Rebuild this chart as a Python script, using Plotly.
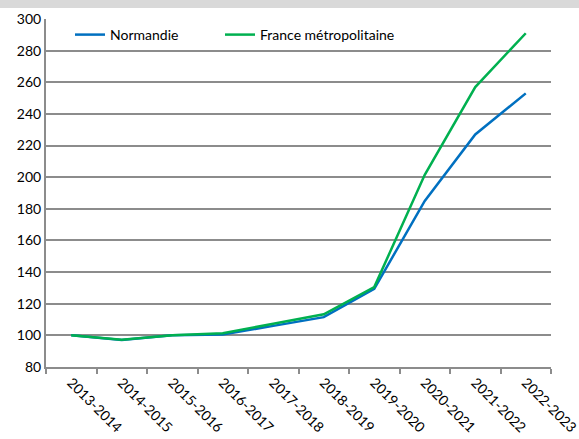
import plotly.graph_objects as go

categories = ["2013-2014", "2014-2015", "2015-2016", "2016-2017", "2017-2018",
              "2018-2019", "2019-2020", "2020-2021", "2021-2022", "2022-2023"]
normandie = [100, 97, 100, 100.6, 106, 111.5, 129.4, 185, 227, 253]
france = [100, 97.3, 100, 101.4, 107.3, 113.3, 130.5, 201.5, 257, 291]

W, H = 579, 439
ml, mr, mt, mb = 46, 28, 19, 72
pw, ph = W - ml - mr, H - mt - mb
FONT = "Lato"
GRID = "#8c8c8c"

fig = go.Figure()
fig.add_trace(go.Scatter(x=categories, y=normandie, mode="lines", name="Normandie",
                         line=dict(color="#0070c0", width=2.5), legend="legend"))
fig.add_trace(go.Scatter(x=categories, y=france, mode="lines", name="France métropolitaine",
                         line=dict(color="#00b050", width=2.5), legend="legend2"))

leg_common = dict(orientation="h", xanchor="left", yanchor="middle",
                  bgcolor="rgba(0,0,0,0)", font=dict(family=FONT, size=14))
fig.update_layout(
    width=W, height=H,
    margin=dict(l=ml, r=mr, t=mt, b=mb, autoexpand=False),
    paper_bgcolor="rgba(0,0,0,0)", plot_bgcolor="white",
    font=dict(family=FONT, size=14, color="#000000"),
    showlegend=True,
    legend=dict(x=(70 - ml) / pw, y=1 - (35 - mt) / ph, **leg_common),
    legend2=dict(x=(220 - ml) / pw, y=1 - (35 - mt) / ph, **leg_common),
    xaxis=dict(type="category", range=[-0.5, 9.5], tickson="boundaries",
               ticks="outside", ticklen=5, tickcolor=GRID, tickwidth=1.5,
               showline=True, linecolor=GRID, linewidth=2,
               showgrid=False, tickangle=45, automargin=False,
               tickfont=dict(family=FONT, size=14)),
    yaxis=dict(range=[80, 300], dtick=20, showgrid=True, gridcolor=GRID, gridwidth=1.5,
               showline=True, linecolor=GRID, linewidth=2, ticks="",
               zeroline=False, automargin=False, tickfont=dict(family=FONT, size=14)),
    shapes=[dict(type="rect", xref="paper", yref="paper",
                 x0=-ml / pw, x1=1 + mr / pw,
                 y0=1 + (mt - 8) / ph, y1=1 + mt / ph,
                 fillcolor="#d9d9d9", line=dict(width=0), layer="below")],
)

css = ("document.body.style.margin='0';document.body.style.padding='0';"
       "document.body.style.background='linear-gradient(#d9d9d9 0px, #d9d9d9 8px, #ffffff 8px, #ffffff 100%)';"
       "document.documentElement.style.background='#ffffff';")
fig.write_html("out.html", config={"displayModeBar": False}, post_script=css)
